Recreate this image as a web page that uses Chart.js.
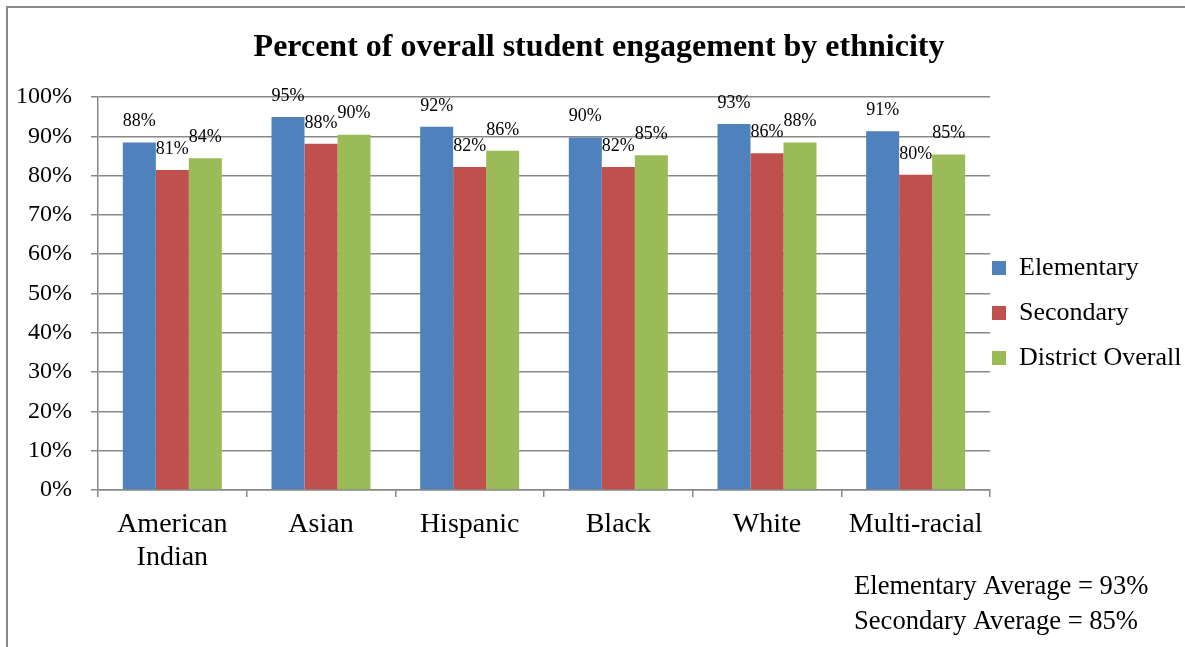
<!DOCTYPE html>
<html>
<head>
<meta charset="utf-8">
<script src="https://cdn.jsdelivr.net/npm/chart.js@4.4.0/dist/chart.umd.min.js"></script>
<style>
  html, body { margin: 0; padding: 0; background: #fff; overflow: hidden; }
</style>
</head>
<body>
<canvas id="chart" width="1185" height="647"></canvas>
<script>
// categorias do eixo x
const etnias = [['American', 'Indian'], 'Asian', 'Hispanic', 'Black', 'White', 'Multi-racial']

// valores (em %)
const elementary = [88.4, 94.9, 92.4, 89.7, 93.1, 91.3]
const secondary = [81.4, 88.1, 82.2, 82.2, 85.7, 80.2]
const districtOverall = [84.4, 90.4, 86.3, 85.2, 88.4, 85.4]

// textos das medias no canto inferior
const medias = ['Elementary Average = 93%', 'Secondary Average = 85%']

const fonte = 'Liberation Serif'
const corGrade = '#888888'

// rotulos em cima de cada barra
const rotulosBarras = {
  id: 'rotulosBarras',
  afterDatasetsDraw(chart) {
    const ctx = chart.ctx
    ctx.save()
    ctx.font = '18px "' + fonte + '"'
    ctx.fillStyle = '#000'
    ctx.textAlign = 'center'
    ctx.textBaseline = 'middle'
    chart.data.datasets.forEach((ds, i) => {
      chart.getDatasetMeta(i).data.forEach((barra, j) => {
        ctx.fillText(Math.round(ds.data[j]) + '%', barra.x, barra.y - 21)
      })
    })
    ctx.restore()
  }
}

// moldura cinza e textos das medias
const moldura = {
  id: 'moldura',
  beforeDraw(chart) {
    const ctx = chart.ctx
    ctx.save()
    ctx.fillStyle = '#fff'
    ctx.fillRect(0, 0, chart.width, chart.height)
    ctx.strokeStyle = '#898989'
    ctx.lineWidth = 2
    ctx.strokeRect(7, 7, chart.width + 20, chart.height + 20)
    ctx.restore()
  },
  afterDraw(chart) {
    const ctx = chart.ctx
    const area = chart.chartArea
    ctx.save()
    ctx.font = '26.6px "' + fonte + '"'
    ctx.fillStyle = '#000'
    ctx.textAlign = 'left'
    ctx.textBaseline = 'middle'
    medias.forEach((txt, i) => {
      ctx.fillText(txt, area.right - 136, area.bottom + 97 + i * 35)
    })
    ctx.restore()
  }
}

const grafico = new Chart('chart', {
  type: 'bar',
  data: {
    labels: etnias,
    datasets: [
      { label: 'Elementary', data: elementary, backgroundColor: '#4F81BD' },
      { label: 'Secondary', data: secondary, backgroundColor: '#C0504D' },
      { label: 'District Overall', data: districtOverall, backgroundColor: '#9BBB59' }
    ]
  },
  options: {
    responsive: false,
    animation: false,
    layout: { padding: { left: 13, top: 0, right: 0, bottom: 4 } },
    datasets: {
      bar: { categoryPercentage: 0.666, barPercentage: 1, borderWidth: 0 }
    },
    plugins: {
      title: {
        display: true,
        text: 'Percent of overall student engagement by ethnicity',
        color: '#000',
        font: { family: fonte, size: 32, weight: 'bold', lineHeight: 1.2 },
        padding: { top: 29, bottom: 29.6 }
      },
      legend: {
        position: 'right',
        maxWidth: 195,
        labels: {
          color: '#000',
          boxWidth: 14,
          boxHeight: 14,
          padding: 2,
          font: { family: fonte, size: 26, lineHeight: 43 / 26 },
          // texto como lista para controlar o espaco entre os itens
          generateLabels: chart => Chart.defaults.plugins.legend.labels.generateLabels(chart)
            .map(item => ({ ...item, text: [item.text] }))
        }
      },
      tooltip: { enabled: false }
    },
    scales: {
      x: {
        grid: { drawOnChartArea: false, drawTicks: true, tickLength: 7, color: corGrade, lineWidth: 1.5 },
        border: { display: true, color: corGrade, width: 1.5 },
        ticks: {
          color: '#000',
          padding: 11,
          maxRotation: 0,
          autoSkip: false,
          font: { family: fonte, size: 28, lineHeight: 33 / 28 }
        },
        afterFit: s => { s.height = 153 }
      },
      y: {
        min: 0,
        max: 100,
        grid: { color: corGrade, lineWidth: 1.5, tickLength: 7, drawTicks: true },
        border: { display: true, color: corGrade, width: 1.5 },
        ticks: {
          stepSize: 10,
          color: '#000',
          padding: 19,
          font: { family: fonte, size: 24 },
          callback: v => v + '%'
        },
        afterFit: s => { s.width = 85 }
      }
    }
  },
  plugins: [moldura, rotulosBarras]
})
</script>
</body>
</html>
